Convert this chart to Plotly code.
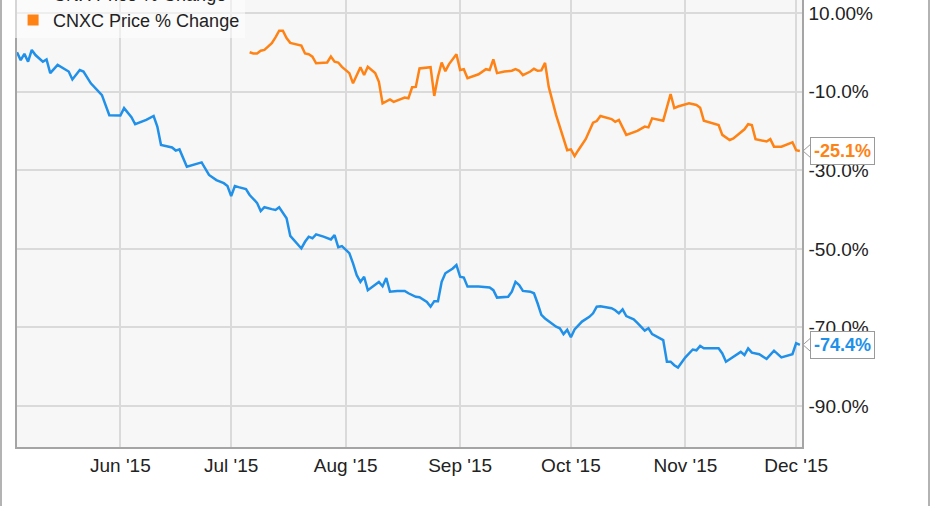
import plotly.graph_objects as go

# ---------------- data ----------------
cnx_dates = [
    "2015-05-04", "2015-05-05", "2015-05-06", "2015-05-07", "2015-05-08", "2015-05-09",
    "2015-05-11", "2015-05-12", "2015-05-13", "2015-05-15", "2015-05-18", "2015-05-19",
    "2015-05-21", "2015-05-22", "2015-05-24", "2015-05-26", "2015-05-27", "2015-05-29",
    "2015-06-01", "2015-06-02", "2015-06-04", "2015-06-05", "2015-06-08", "2015-06-10",
    "2015-06-11", "2015-06-12", "2015-06-15", "2015-06-16", "2015-06-17", "2015-06-19",
    "2015-06-23", "2015-06-25", "2015-06-27", "2015-06-29", "2015-06-30", "2015-07-01",
    "2015-07-02", "2015-07-03", "2015-07-05", "2015-07-06", "2015-07-08", "2015-07-09",
    "2015-07-10", "2015-07-12", "2015-07-13", "2015-07-14", "2015-07-16", "2015-07-17",
    "2015-07-18", "2015-07-19", "2015-07-20", "2015-07-21", "2015-07-22", "2015-07-23",
    "2015-07-24", "2015-07-26", "2015-07-28", "2015-07-29", "2015-07-30", "2015-07-31",
    "2015-08-02", "2015-08-03", "2015-08-04", "2015-08-05", "2015-08-06", "2015-08-07",
    "2015-08-09", "2015-08-10", "2015-08-11", "2015-08-12", "2015-08-13", "2015-08-15",
    "2015-08-17", "2015-08-18", "2015-08-20", "2015-08-21", "2015-08-23", "2015-08-24",
    "2015-08-25", "2015-08-26", "2015-08-27", "2015-08-28", "2015-08-30", "2015-08-31",
    "2015-09-01", "2015-09-02", "2015-09-03", "2015-09-06", "2015-09-09", "2015-09-10",
    "2015-09-11", "2015-09-14", "2015-09-15", "2015-09-16", "2015-09-17", "2015-09-18",
    "2015-09-20", "2015-09-21", "2015-09-22", "2015-09-23", "2015-09-24", "2015-09-26",
    "2015-09-27", "2015-09-28", "2015-09-29", "2015-09-30", "2015-10-01", "2015-10-02",
    "2015-10-04", "2015-10-06", "2015-10-07", "2015-10-08", "2015-10-09", "2015-10-12",
    "2015-10-13", "2015-10-14", "2015-10-15", "2015-10-16", "2015-10-18", "2015-10-19",
    "2015-10-20", "2015-10-21", "2015-10-22", "2015-10-23", "2015-10-26", "2015-10-27",
    "2015-10-28", "2015-10-29", "2015-10-30", "2015-11-01", "2015-11-03", "2015-11-04",
    "2015-11-05", "2015-11-06", "2015-11-10", "2015-11-11", "2015-11-12", "2015-11-14",
    "2015-11-16", "2015-11-17", "2015-11-18", "2015-11-19", "2015-11-21", "2015-11-23",
    "2015-11-25", "2015-11-27", "2015-11-30", "2015-12-01", "2015-12-02",
]
cnx_values = [
    0.0, -2.0, -0.4, -2.4, 0.6, -0.7,
    -2.4, -1.8, -5.3, -3.2, -4.9, -6.9,
    -4.5, -4.9, -7.9, -10.0, -10.9, -16.0,
    -16.1, -14.2, -16.5, -18.3, -17.2, -16.2,
    -18.9, -23.6, -24.2, -25.0, -24.7, -29.1,
    -28.0, -31.2, -32.5, -33.3, -34.0, -36.6,
    -34.0, -34.3, -34.8, -36.3, -38.3, -40.4,
    -39.4, -39.9, -40.1, -39.4, -42.2, -46.7,
    -47.8, -48.8, -49.9, -48.2, -46.9, -47.3,
    -46.3, -46.9, -47.6, -46.5, -49.6, -49.3,
    -51.1, -53.7, -56.7, -58.4, -57.1, -60.5,
    -59.2, -58.4, -59.5, -57.4, -60.9, -60.7,
    -60.7, -61.3, -62.2, -62.3, -63.5, -64.7,
    -63.3, -63.3, -58.4, -56.2, -55.0, -54.1,
    -57.1, -57.3, -59.6, -59.6, -59.8, -60.5,
    -62.4, -62.2, -60.9, -58.4, -59.2, -60.7,
    -60.9, -61.3, -63.9, -66.8, -67.7, -69.0,
    -69.8, -70.2, -71.7, -70.6, -72.5, -70.5,
    -68.5, -67.3, -66.4, -64.7, -64.6, -65.1,
    -65.6, -66.4, -65.4, -67.1, -67.9, -68.8,
    -69.8, -70.8, -70.2, -71.7, -73.2, -78.7,
    -78.7, -79.6, -80.2, -77.6, -75.6, -75.8,
    -74.7, -75.3, -75.3, -76.6, -78.7, -77.5,
    -76.2, -77.0, -75.3, -76.4, -76.8, -78.0,
    -75.9, -77.6, -76.8, -74.0, -74.4,
]

cnxc_dates = [
    "2015-07-06", "2015-07-07", "2015-07-08", "2015-07-09", "2015-07-10", "2015-07-12",
    "2015-07-13", "2015-07-14", "2015-07-15", "2015-07-16", "2015-07-17", "2015-07-19",
    "2015-07-20", "2015-07-21", "2015-07-22", "2015-07-23", "2015-07-24", "2015-07-27",
    "2015-07-28", "2015-07-29", "2015-07-30", "2015-07-31", "2015-08-02", "2015-08-03",
    "2015-08-05", "2015-08-06", "2015-08-07", "2015-08-09", "2015-08-10", "2015-08-11",
    "2015-08-12", "2015-08-13", "2015-08-14", "2015-08-16", "2015-08-17", "2015-08-18",
    "2015-08-19", "2015-08-20", "2015-08-21", "2015-08-24", "2015-08-25", "2015-08-26",
    "2015-08-27", "2015-08-28", "2015-08-29", "2015-08-31", "2015-09-01", "2015-09-02",
    "2015-09-03", "2015-09-06", "2015-09-08", "2015-09-09", "2015-09-10", "2015-09-11",
    "2015-09-13", "2015-09-15", "2015-09-16", "2015-09-17", "2015-09-18", "2015-09-20",
    "2015-09-21", "2015-09-22", "2015-09-23", "2015-09-24", "2015-09-25", "2015-09-27",
    "2015-09-29", "2015-09-30", "2015-10-01", "2015-10-02", "2015-10-03", "2015-10-05",
    "2015-10-07", "2015-10-08", "2015-10-09", "2015-10-12", "2015-10-13", "2015-10-14",
    "2015-10-16", "2015-10-19", "2015-10-21", "2015-10-22", "2015-10-23", "2015-10-26",
    "2015-10-28", "2015-10-29", "2015-10-30", "2015-11-02", "2015-11-04", "2015-11-05",
    "2015-11-06", "2015-11-08", "2015-11-10", "2015-11-11", "2015-11-13", "2015-11-14",
    "2015-11-16", "2015-11-17", "2015-11-18", "2015-11-19", "2015-11-20", "2015-11-22",
    "2015-11-23", "2015-11-24", "2015-11-25", "2015-11-27", "2015-11-30", "2015-12-01",
    "2015-12-02",
]
cnxc_values = [
    0.0, -0.3, -0.3, 0.4, 0.6, 2.3,
    3.8, 5.5, 5.5, 3.6, 2.4, 2.0,
    1.7, -0.3, -0.5, -1.1, -2.8, -2.6,
    -1.1, -2.4, -2.6, -3.7, -5.3, -7.9,
    -3.8, -5.8, -3.7, -5.3, -7.5, -13.0,
    -12.6, -12.0, -12.6, -12.0, -11.5, -11.7,
    -8.9, -8.8, -4.1, -3.8, -11.1, -6.2,
    -2.6, -4.8, -3.0, -0.5, -4.5, -4.3,
    -6.6, -5.6, -4.3, -4.5, -1.8, -5.3,
    -4.9, -4.7, -4.3, -4.7, -5.8, -4.9,
    -4.2, -4.7, -4.6, -2.7, -8.8, -16.0,
    -22.3, -24.9, -24.7, -26.4, -24.9, -22.1,
    -17.9, -17.5, -16.2, -17.0, -17.7, -17.2,
    -21.0, -20.0, -18.9, -19.1, -16.8, -17.4,
    -10.6, -14.2, -13.8, -13.0, -13.4, -14.1,
    -17.4, -17.9, -18.5, -21.0, -22.3, -21.9,
    -20.2, -19.6, -18.3, -18.5, -22.1, -22.5,
    -22.7, -22.1, -24.0, -24.0, -22.9, -24.9,
    -25.1,
]

series_names = ["CNX Price % Change", "CNXC Price % Change"]
series_colors = ["#2190e8", "#ff8214"]

y_tickvals = [10, -10, -30, -50, -70, -90]
y_ticktext = ["10.00%", "-10.0%", "-30.0%", "-50.0%", "-70.0%", "-90.0%"]
x_tickvals = ["2015-06-01", "2015-07-01", "2015-08-01", "2015-09-01",
              "2015-10-01", "2015-11-01", "2015-12-01"]
x_ticktext = ["Jun '15", "Jul '15", "Aug '15", "Sep '15", "Oct '15", "Nov '15", "Dec '15"]

FONT = "Liberation Sans, Arial, sans-serif"

fig = go.Figure()
for dates, vals, name, color in [
    (cnx_dates, cnx_values, series_names[0], series_colors[0]),
    (cnxc_dates, cnxc_values, series_names[1], series_colors[1]),
]:
    fig.add_trace(go.Scatter(x=dates, y=vals, mode="lines", name=name,
                             line=dict(color=color, width=2.5), showlegend=False,
                             hoverinfo="skip"))
    # legend entry with a square marker
    fig.add_trace(go.Scatter(x=[None], y=[None], mode="markers", name=name,
                             marker=dict(symbol="square", size=11, color=color),
                             showlegend=True))

# end-of-series labels
end_labels = [(cnxc_values[-1], series_colors[1]), (cnx_values[-1], series_colors[0])]
annotations = []
for val, color in end_labels:
    annotations.append(dict(
        x=1, xref="paper", y=val, yref="y", xanchor="left", yanchor="middle",
        xshift=8, showarrow=False, text="<b>%.1f%%</b>" % val,
        font=dict(family=FONT, size=18, color=color),
        bgcolor="white", bordercolor="#9a9a9a", borderwidth=1, borderpad=3,
    ))

fig.update_layout(
    width=931, height=506,
    margin=dict(l=17, r=129, t=0, b=59, autoexpand=False),
    paper_bgcolor="white", plot_bgcolor="#f7f7f7",
    font=dict(family=FONT, size=19, color="#222222"),
    showlegend=True,
    legend=dict(x=-0.005, y=1.055, xanchor="left", yanchor="top",
                bgcolor="rgba(255,255,255,0.55)", borderwidth=0,
                font=dict(family=FONT, size=18, color="#222222"),
                tracegroupgap=0, itemclick=False),
    xaxis=dict(type="date", range=["2015-05-04", "2015-12-02 14:00"],
               tickvals=x_tickvals, ticktext=x_ticktext,
               showgrid=True, gridcolor="#dadada", gridwidth=1.5,
               showline=True, linecolor="#a5a5a5", linewidth=1.5,
               ticks="", ticklabelstandoff=0, zeroline=False),
    yaxis=dict(side="right", range=[-100.4, 13.3],
               tickvals=y_tickvals, ticktext=y_ticktext,
               showgrid=True, gridcolor="#dadada", gridwidth=1.5,
               showline=True, mirror=True, linecolor="#a5a5a5", linewidth=1.5,
               ticks="", ticklabelstandoff=1, zeroline=False),
    annotations=annotations,
)

# outer frame lines at figure edges
for xp in [(-16.0) / 785, (929.0 - 17) / 785]:
    fig.add_shape(type="line", xref="paper", yref="paper", x0=xp, x1=xp,
                  y0=-59 / 447 - 0.01, y1=1.01, line=dict(color="#9a9a9a", width=1.5))

# callout notches pointing at the last values
for val, color in end_labels:
    fig.add_shape(type="path", xref="paper", yref="y",
                  path="M %f,%f L %f,%f L %f,%f" % (
                      1 + 9 / 785, val + 1.8, 1.0 + 1 / 785, val, 1 + 9 / 785, val - 1.8),
                  line=dict(color="#9a9a9a", width=1), fillcolor="white", layer="above")

fig.write_html("out.html", config={"displayModeBar": False},
               post_script="document.body.style.margin='0';document.body.style.overflow='hidden';")
